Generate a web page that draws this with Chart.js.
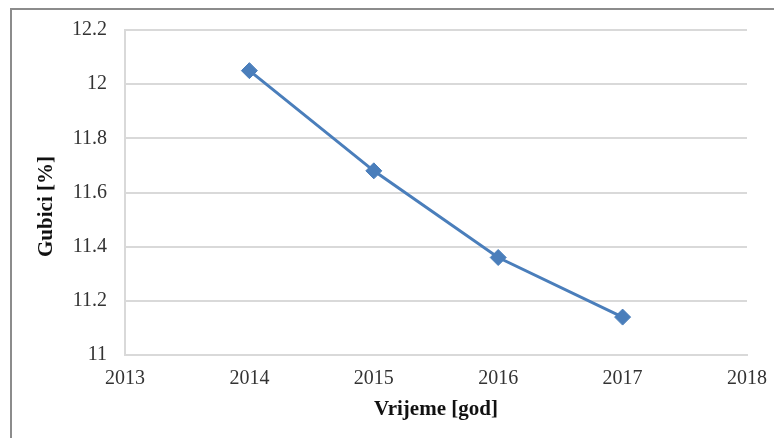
<!DOCTYPE html>
<html>
<head>
<meta charset="utf-8">
<script src="https://cdn.jsdelivr.net/npm/chart.js@4.4.0/dist/chart.umd.min.js"></script>
<style>
html,body{margin:0;padding:0;background:#fff;}
#wrap{position:relative;width:774px;height:438px;}
</style>
</head>
<body>
<div id="wrap"><canvas id="c" width="774" height="438"></canvas></div>
<script>
const years = [2014, 2015, 2016, 2017];
const losses = [12.05, 11.68, 11.36, 11.14];
const xTitle = 'Vrijeme [god]';
const yTitle = 'Gubici [%]';

const FONT = '"Liberation Serif", "Times New Roman", serif';

const frame = {
  id: 'frame',
  beforeDraw(chart) {
    const ctx = chart.ctx;
    ctx.save();
    ctx.fillStyle = '#ffffff';
    ctx.fillRect(0, 0, chart.width, chart.height);
    ctx.strokeStyle = '#8c8c8c';
    ctx.lineWidth = 2;
    ctx.beginPath();
    ctx.moveTo(11, chart.height);
    ctx.lineTo(11, 9);
    ctx.lineTo(chart.width, 9);
    ctx.stroke();
    ctx.restore();
  },
  afterDraw(chart) {
    const ctx = chart.ctx;
    const area = chart.chartArea;
    ctx.save();
    ctx.translate(47, (area.top + area.bottom) / 2 + 14);
    ctx.rotate(-Math.PI / 2);
    ctx.fillStyle = '#111';
    ctx.font = 'bold 21px ' + FONT;
    ctx.textAlign = 'center';
    ctx.textBaseline = 'middle';
    ctx.fillText(yTitle, 0, 0);
    ctx.restore();
  }
};

new Chart(document.getElementById('c'), {
  type: 'scatter',
  data: {
    datasets: [{
      data: years.map((y, i) => ({x: y, y: losses[i]})),
      showLine: true,
      borderColor: '#4a7ebb',
      backgroundColor: '#4a7ebb',
      borderWidth: 3,
      pointStyle: 'rectRot',
      pointRadius: 8,
      pointHoverRadius: 8,
      pointBorderWidth: 1
    }]
  },
  options: {
    responsive: false,
    animation: false,
    devicePixelRatio: 1,
    layout: {padding: {left: 0, right: 27, top: 30, bottom: 0}},
    plugins: {legend: {display: false}, tooltip: {enabled: false}},
    scales: {
      x: {
        type: 'linear',
        min: 2013, max: 2018,
        afterFit(s) { s.height = 83; s.paddingRight = 0; s.paddingLeft = 0; },
        ticks: {stepSize: 1, padding: 12, color: '#333', font: {family: FONT, size: 20}, callback: v => String(v)},
        grid: {display: false, drawTicks: false},
        border: {display: true, color: '#d9d9d9', width: 2},
        title: {display: true, text: xTitle, color: '#111', font: {family: FONT, size: 21, weight: 'bold'}, padding: {top: 0, bottom: 16}}
      },
      y: {
        min: 11, max: 12.2,
        afterFit(s) { s.width = 125; s.paddingTop = 0; s.paddingBottom = 0; },
        ticks: {stepSize: 0.2, padding: 18, color: '#333', font: {family: FONT, size: 20}, callback: v => String(Math.round(v * 10) / 10)},
        grid: {color: '#d9d9d9', lineWidth: 2, drawTicks: false},
        border: {display: true, color: '#d9d9d9', width: 2},
        title: {display: false}
      }
    }
  },
  plugins: [frame]
});
</script>
</body>
</html>
